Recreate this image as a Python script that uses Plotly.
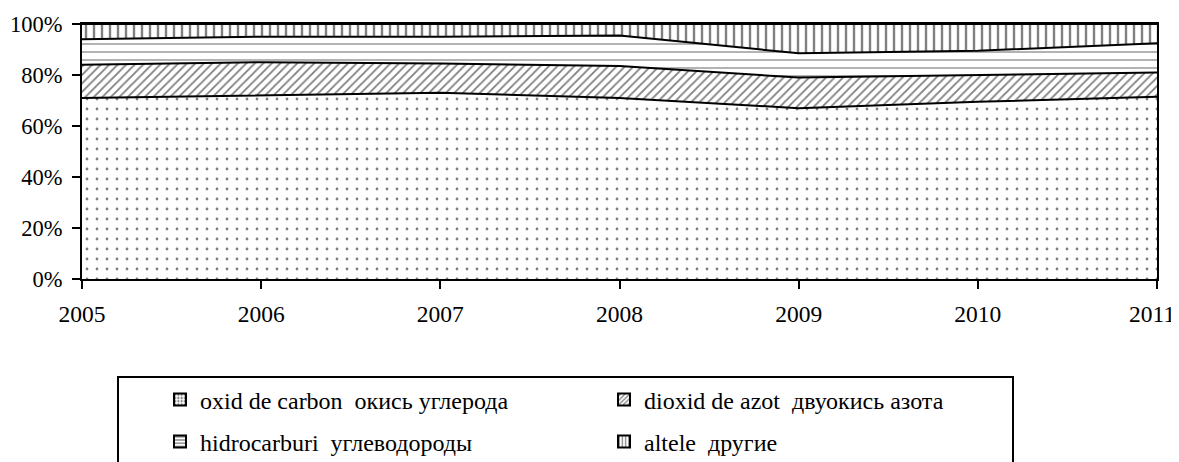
import plotly.graph_objects as go

years = [2005, 2006, 2007, 2008, 2009, 2010, 2011]
carbon = [71, 72, 73, 71, 67, 69.5, 71.5]
no2 = [13, 13, 11.5, 12.5, 12, 10.5, 9.5]
hydro = [10, 10, 10.5, 12, 9.5, 9.5, 11.5]
other = [6, 5, 5, 4.5, 11.5, 10.5, 7.5]
y_ticks = [0, 20, 40, 60, 80, 100]
y_labels = ["0%", "20%", "40%", "60%", "80%", "100%"]

names = ["oxid de carbon\u00a0\u00a0окись углерода",
         "dioxid de azot\u00a0\u00a0двуокись азота",
         "hidrocarburi\u00a0\u00a0углеводороды",
         "altele\u00a0\u00a0другие"]
series = [carbon, no2, hydro, other]
patterns = [
    dict(shape=".", size=10, solidity=0.06),
    dict(shape="/", size=6, solidity=0.3),
    dict(shape="-", size=8, solidity=0.15),
    dict(shape="|", size=8, solidity=0.3),
]
legends = ["legend", "legend", "legend2", "legend2"]

FONT = "Times New Roman, Liberation Serif, DejaVu Serif, serif"
FS_X, FS_Y, FS_L = 23.5, 22.5, 24
fig = go.Figure()
for name, vals, pat in zip(names, series, patterns):
    fig.add_trace(go.Scatter(
        x=years, y=vals, stackgroup="one", groupnorm="percent",
        mode="lines", line=dict(color="black", width=2),
        fillcolor="white",
        fillpattern=dict(fgcolor="black", bgcolor="white", **pat),
        showlegend=False, hoverinfo="skip"))
# legend swatches
for name, pat, lg in zip(names, patterns, legends):
    fig.add_trace(go.Bar(
        x=[None], y=[None], name=name, legend=lg,
        marker=dict(color="white", line=dict(color="black", width=2),
                    pattern=dict(fgcolor="black", bgcolor="white",
                                 shape=pat["shape"], size=4, solidity=0.4)),
        showlegend=True))

# the page body has an 8px margin: all figure coordinates are window - 8
OFF = 8
W, H = 1179, 462
L, R, T, B = 82 - OFF, 22 + OFF, 24 - OFF, 183 + OFF
pw, ph = W - L - R, H - T - B

def px(x):  # window x -> paper
    return (x - OFF - L) / pw

def py(y):  # window y -> paper
    return (H - B - (y - OFF)) / ph

def cy(y):  # window y -> container
    return 1 - (y - OFF) / H

def cx(x):
    return (x - OFF) / W

leg_common = dict(orientation="h", xref="container", yref="container",
                  xanchor="left", yanchor="middle",
                  entrywidth=399, entrywidthmode="pixels",
                  bgcolor="rgba(0,0,0,0)", font=dict(size=FS_L, family=FONT),
                  itemwidth=30, traceorder="normal")

xt_text = [str(y) for y in years[:-1]] + [""]

fig.update_layout(
    width=W, height=H,
    margin=dict(l=L, r=R, t=T, b=B, autoexpand=False),
    paper_bgcolor="white", plot_bgcolor="white",
    font=dict(family=FONT, color="black", size=FS_X),
    xaxis=dict(range=[2005, 2011], tickmode="array", tickvals=years, ticktext=xt_text,
               showgrid=False, zeroline=False,
               showline=True, linecolor="black", linewidth=2, mirror=True,
               ticks="outside", ticklen=8, tickwidth=2, tickcolor="black",
               ticklabelstandoff=5, ticklabeloverflow="allow",
               tickfont=dict(size=FS_X, family=FONT)),
    yaxis=dict(range=[0, 100], tickmode="array", tickvals=y_ticks, ticktext=y_labels,
               showgrid=False, zeroline=False,
               showline=True, linecolor="black", linewidth=2, mirror=True,
               ticks="outside", ticklen=8, tickwidth=2, tickcolor="black",
               ticklabelstandoff=5, tickfont=dict(size=FS_Y, family=FONT)),
    legend=dict(x=cx(160), y=cy(400), **leg_common),
    legend2=dict(x=cx(160), y=cy(442), **leg_common),
    annotations=[dict(text=str(years[-1]), xref="paper", yref="paper",
                      x=px(1177), y=py(314), xanchor="right", yanchor="middle",
                      showarrow=False, font=dict(size=FS_X, family=FONT))],
    shapes=[dict(type="rect", xref="paper", yref="paper",
                 x0=px(118), x1=px(1013), y0=py(530), y1=py(377),
                 line=dict(color="black", width=2), fillcolor="rgba(0,0,0,0)")],
    bargap=0,
)
fig.write_html("out.html")
